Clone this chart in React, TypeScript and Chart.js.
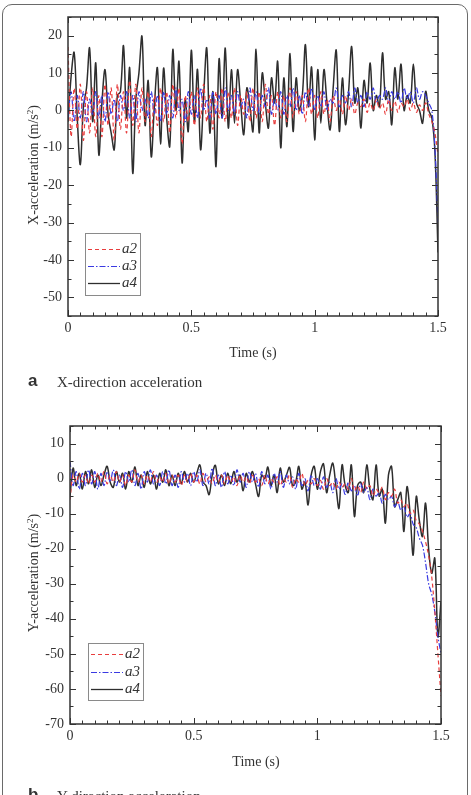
import React, { useEffect, useRef } from "react";
import { Chart, registerables } from "chart.js";

Chart.register(...registerables);

// ---- data ---------------------------------------------------------------
// Sample spacing along the time axis (s); every series below is sampled on it.
const TIME_STEP = 0.0125;
const X_TICKS = [0, 0.5, 1, 1.5];
const X_TICK_LABELS = ["0", "0.5", "1", "1.5"];
const Y_TICKS_X = [-50, -40, -30, -20, -10, 0, 10, 20];
const Y_TICKS_Y = [-70, -60, -50, -40, -30, -20, -10, 0, 10];
const SERIES_NAMES = ["a2", "a3", "a4"];

// X-direction acceleration (m/s^2)
const X_A2 = [
  17, -7, 6, -5, 7, -8, 5, -6, 6, -7,
  4, -7, 7, -4, 6, -8, 7, -5, 5, -6,
  8, -4, 7, -6, 6, -3, 5, -7, 4, -4,
  6, -3, 5, -6, 7, -2, 6, -9, 4, -3,
  5, -4, 6, -2, 7, -3, 4, -5, 5, -2,
  6, -3, 5, -2, 6, -4, 4, -1, 5, -3,
  6, -2, 5, -3, 7, -1, 4, -4, 5, -2,
  4, -3, 6, -2, 5, -1, 4, -3, 6, -1,
  4, -2, 5, -1, 3, -3, 4, 0, 3, -1,
  4, 0, 3, -1, 2, 1, 3, -0.5, 2, 0,
  3, 0.5, 2, -1, 3, 0, 2.5, -0.5, 2, 1,
  3, 0, 2, -0.5, 1.5, 0, 2, -1, -3, -6,
  -12,
];
const X_A3 = [
  -2, 5, -3, 4, -2, 5, -3, 3, -1, 5,
  -2, 4, -3, 5, -1, 3, -3, 4, 0, 5,
  -2, 4, -3, 5, 0, 3, -2, 5, -1, 4,
  -3, 5, -1, 4, -2, 6, 0, 3, -3, 5,
  -1, 4, -2, 6, 0, 3, -2, 5, -1, 4,
  -2, 6, 0, 4, -1, 5, 1, 3, -2, 6,
  0, 5, -1, 4, 1, 6, -1, 3, 0, 5,
  -1, 4, 1, 6, 0, 4, -1, 5, 1, 6,
  0, 4, 1, 5, 0, 3, 2, 6, 1, 4,
  2, 5, 1, 6, 2, 4, 1, 5, 3, 6,
  2, 4, 3, 6, 2, 5, 3, 5, 2, 6,
  3, 5, 2, 6, 3, 5, 4, 2, 0, -10,
  -30,
];
const X_A4 = [
  -3, 9, 15.5, -2, -14.5, 1, 6, 16.7, -3, 12.7,
  -11.9, 2, 10.9, -1, -6, -10.5, 4, 5, 17.3, -2,
  11.4, -16.8, 3, 10, 19.8, -4, 8, -12.4, 1, 11.4,
  -9, 11.3, -2, -9.6, 16.3, 0, 13.1, -14, 3, -5.6,
  16.1, -3, 11, -10.5, 4, 16.7, -6, 5, -15, 13.8,
  -2, 16.7, -4.7, 10.9, -3.4, 10.9, 2, -6.5, 6, 1,
  -5.6, 16.4, -6, 10, 2, -4.7, 8.7, 2, 13.1, -10,
  8.7, -4.3, 15.2, -5.6, 8.7, 0, 4, 17.6, 1, 11.6,
  -7.9, 10.9, -3.4, 10.9, 2, -5.2, 6, 16.1, -5.6, 8.7,
  -3.8, 5, 17.1, 2, 6, -4.7, 8, 2, 12.7, 0,
  4, 1, 15.4, 3, 5, -3.8, 11.4, 3, 12.4, 0,
  4, 2, 12.4, 2, 0, -3.4, 5.1, 0, -2, -11,
  -38,
];

// Y-direction acceleration (m/s^2)
const Y_A2 = [
  -6, 1, -1, 1.5, -1, 1, -1.5, 1, -1, 1.5,
  -1, 2, -1.5, 1, -1, 2, -1, 1, -2, 1,
  -1, 2.5, -1, 1, -1.5, 1, -1, 2, -1, 0.5,
  -1, 1.5, -1.5, 1, -1, 1, -2, 1, -1, 1.5,
  -1, 1, -1.5, 1.5, -1, 0.5, -1.5, 1, -1, 1,
  -1.5, 1, -1, 0.5, -2, 1, -1, 0.5, -1.5, 1,
  -1, 0, -2, 1, -1.5, 0, -1, 0.5, -2, 0,
  -1, 1, -2.5, 0, -1, 1.5, -2, -0.5, -1.5, 0,
  -2, -0.5, -3, 0, -2, -1, -3, -1, -2.5, -1.5,
  -3, 0, -3.5, -2, -4, -1, -3, -2, -5, -3,
  -4, -2.5, -6, -4, -5, -3, -7, -6, -8, -7,
  -10, -9, -12, -13, -15, -18, -22, -28, -38, -50,
  -62,
];
const Y_A3 = [
  5, -2, 2, -3, 1.5, -2, 2.5, -1.5, 2, -3,
  1.5, -2, 2, -1, 2.5, -2, 1, -2.5, 2, -1,
  2.5, -2, 1.5, -3, 2, -1, 2.5, -1.5, 1, -2,
  2, -1.5, 2.5, -2, 1, -2.5, 2, -1, 1.5, -2,
  2, -1, 2.5, -2, 1.5, -1.5, 3, -2, 1, -2.5,
  2, -1.5, 1, -2, 2.5, -1, 1.5, -2.5, 2, -1,
  1.5, -2.5, 2, -1.5, 1, -3, 1.5, -1, 2, -2.5,
  1, -1.5, 0.5, -3, 1.5, -2, 0, -3.5, 1, -2,
  0, -3, 0.5, -2.5, -1, -4, 0, -3, -1.5, -4.5,
  -1, -3.5, -2, -5, -1.5, -4, -2.5, -6, -3, -5,
  -4, -7, -4.5, -6, -5, -8, -6.5, -9, -8, -11,
  -10, -13, -14, -17, -19, -24, -30, -33, -38, -45,
  -50,
];
const Y_A4 = [
  -5, 3, -2, 1.5, -3, 2, -1.5, 2.5, -2.5, 1,
  -2, 1, 3.5, -1, -2.5, 2, -1, 1.5, -3, 2,
  -1, 3.3, -2, 1, -2.5, 2, -1.5, 1, -3, 1.5,
  -1, 2.5, -2, 1, -2, 1.5, -1.5, 2, -1, 1.5,
  -1, 1.5, 3.9, -1, -2, -4.6, 1, 3.8, -1.5, 1,
  -2, 1.5, -1.5, 2, -1, 1, -3.5, 1.5, -1, 2,
  -1.5, -5.1, 1, 0, 3.3, -2, 1, -4, 3, -1,
  1, 3.2, -2, -1, 3.5, -3, -1, -7.5, 1, 3.5,
  -3, 2, 4.2, -4, 1, 4.4, -2, -8.5, 3.9, -2,
  -4, 3.9, -10.8, -2, -1, -4, 3.9, -3, -6, 3.9,
  -5, -3, -12.7, 1, 3.5, -8, -6, -4, -15.1, -2.3,
  -10, -21.8, -5.1, -12, -16.5, -7, -20, -27, -22.7, -45,
  -35,
];

// ---- styling ------------------------------------------------------------
const SERIF = '"Liberation Serif", "Times New Roman", serif';
const SANS = '"Liberation Sans", Arial, sans-serif';
const INK = "#333";
const LINE_STYLES = [
  { color: "rgb(232, 62, 62)", dash: [4, 3], width: 1.2 },
  { color: "rgb(58, 58, 226)", dash: [6, 2, 1.5, 2], width: 1.2 },
  { color: "#2e2e2e", dash: [] as number[], width: 1.5 },
];

type Panel = {
  series: number[][];
  yMin: number;
  yMax: number;
  yTicks: number[];
  height: number;
  padTop: number;
  padRight: number;
  yAxisWidth: number;
  xAxisHeight: number;
  legend: { x: number; y: number; w: number; h: number; rows: number[] };
};

const PANEL_X: Panel = {
  series: [X_A2, X_A3, X_A4],
  yMin: -55,
  yMax: 25,
  yTicks: Y_TICKS_X,
  height: 370,
  padTop: 17,
  padRight: 33,
  yAxisWidth: 68,
  xAxisHeight: 54,
  legend: { x: 85, y: 233, w: 55, h: 62, rows: [16, 33, 50] },
};

const PANEL_Y: Panel = {
  series: [Y_A2, Y_A3, Y_A4],
  yMin: -70,
  yMax: 15,
  yTicks: Y_TICKS_Y,
  height: 380,
  padTop: 26,
  padRight: 30,
  yAxisWidth: 70,
  xAxisHeight: 56,
  legend: { x: 88, y: 243, w: 55, h: 57, rows: [11, 29, 46] },
};

// Closed box around the plot with inward major/minor ticks on all four sides.
function frameTicksPlugin(yMinor: number, yMajor: number, xMinor: number, xMajor: number) {
  return {
    id: "frameTicks",
    afterDatasetsDraw(chart: any) {
      const { ctx, chartArea: a, scales } = chart;
      const xs = scales.x;
      const ys = scales.y;
      const isMajor = (v: number, step: number) =>
        Math.abs(v / step - Math.round(v / step)) < 1e-6;
      ctx.save();
      ctx.strokeStyle = INK;
      ctx.lineWidth = 1;
      ctx.beginPath();
      const nx = Math.round((xs.max - xs.min) / xMinor);
      for (let k = 0; k <= nx; k++) {
        const v = xs.min + k * xMinor;
        const px = Math.round(xs.getPixelForValue(v)) + 0.5;
        const len = isMajor(v, xMajor) ? 6 : 3.5;
        ctx.moveTo(px, a.bottom);
        ctx.lineTo(px, a.bottom - len);
        ctx.moveTo(px, a.top);
        ctx.lineTo(px, a.top + len);
      }
      const ny = Math.round((ys.max - ys.min) / yMinor);
      for (let k = 0; k <= ny; k++) {
        const v = ys.min + k * yMinor;
        const py = Math.round(ys.getPixelForValue(v)) + 0.5;
        const len = isMajor(v, yMajor) ? 6 : 3.5;
        ctx.moveTo(a.left, py);
        ctx.lineTo(a.left + len, py);
        ctx.moveTo(a.right, py);
        ctx.lineTo(a.right - len, py);
      }
      ctx.stroke();
      ctx.lineWidth = 1.5;
      ctx.strokeRect(a.left, a.top, a.right - a.left, a.bottom - a.top);
      ctx.restore();
    },
  };
}

// Boxed legend drawn inside the plot, using each dataset's own line style.
function boxLegendPlugin(box: Panel["legend"]) {
  return {
    id: "boxLegend",
    afterDraw(chart: any) {
      const { ctx } = chart;
      ctx.save();
      ctx.fillStyle = "#fff";
      ctx.fillRect(box.x, box.y, box.w, box.h);
      ctx.strokeStyle = "#8a8a8a";
      ctx.lineWidth = 1;
      ctx.strokeRect(box.x + 0.5, box.y + 0.5, box.w, box.h);
      chart.data.datasets.forEach((ds: any, k: number) => {
        const y = box.y + box.rows[k] + 0.5;
        ctx.strokeStyle = ds.borderColor;
        ctx.lineWidth = Math.min(ds.borderWidth, 1.3);
        ctx.setLineDash(ds.borderDash || []);
        ctx.beginPath();
        ctx.moveTo(box.x + 3, y);
        ctx.lineTo(box.x + 35, y);
        ctx.stroke();
        ctx.setLineDash([]);
        ctx.fillStyle = INK;
        ctx.font = `italic 15px ${SERIF}`;
        ctx.textBaseline = "middle";
        ctx.fillText(ds.label, box.x + 37, y);
      });
      ctx.restore();
    },
  };
}

function buildConfig(p: Panel): any {
  return {
    type: "line",
    data: {
      datasets: p.series.map((values, k) => ({
        label: SERIES_NAMES[k],
        data: values.map((v, i) => ({ x: i * TIME_STEP, y: v })),
        borderColor: LINE_STYLES[k].color,
        borderDash: LINE_STYLES[k].dash,
        borderWidth: LINE_STYLES[k].width,
        pointRadius: 0,
        tension: 0.35,
        fill: false,
      })),
    },
    options: {
      responsive: false,
      animation: false,
      devicePixelRatio: 1,
      events: [],
      layout: { padding: { left: 0, top: p.padTop, right: p.padRight, bottom: 0 } },
      plugins: { legend: { display: false }, tooltip: { enabled: false } },
      scales: {
        x: {
          type: "linear",
          min: 0,
          max: 1.5,
          grid: { display: false, drawTicks: false },
          border: { display: false },
          afterBuildTicks: (s: any) => {
            s.ticks = X_TICKS.map((v) => ({ value: v }));
          },
          afterFit: (s: any) => {
            s.height = p.xAxisHeight;
          },
          ticks: {
            font: { family: SERIF, size: 14 },
            color: INK,
            padding: 4,
            maxRotation: 0,
            autoSkip: false,
            callback: (v: number) => X_TICK_LABELS[X_TICKS.indexOf(v)] ?? "",
          },
        },
        y: {
          type: "linear",
          min: p.yMin,
          max: p.yMax,
          grid: { display: false, drawTicks: false },
          border: { display: false },
          afterBuildTicks: (s: any) => {
            s.ticks = p.yTicks.map((v) => ({ value: v }));
          },
          afterFit: (s: any) => {
            s.width = p.yAxisWidth;
          },
          ticks: {
            font: { family: SERIF, size: 14 },
            color: INK,
            padding: 6,
            autoSkip: false,
            callback: (v: number) => String(v),
          },
        },
      },
    },
    plugins: [frameTicksPlugin(5, 10, 0.05, 0.5), boxLegendPlugin(p.legend)],
  };
}

const abs = (extra: React.CSSProperties): React.CSSProperties => ({
  position: "absolute",
  whiteSpace: "nowrap",
  ...extra,
});

function AxisTitleY({ cx, cy, axis }: { cx: number; cy: number; axis: string }) {
  return (
    <div
      style={abs({
        left: cx,
        top: cy,
        transform: "translate(-50%, -50%) rotate(-90deg)",
        fontSize: 14,
        lineHeight: "16px",
      })}
    >
      {axis}-acceleration (m/s
      <sup style={{ fontSize: 9, lineHeight: 0, verticalAlign: 5 }}>2</sup>)
    </div>
  );
}

function Caption({ top, letter, text }: { top: number; letter: string; text: string }) {
  return (
    <>
      <div style={abs({ left: 28, top, fontFamily: SANS, fontWeight: 700, fontSize: 17, lineHeight: "20px" })}>
        {letter}
      </div>
      <div style={abs({ left: 57, top: top + 1, fontSize: 15, lineHeight: "20px" })}>{text}</div>
    </>
  );
}

export default function App() {
  const refX = useRef<HTMLCanvasElement>(null);
  const refY = useRef<HTMLCanvasElement>(null);

  useEffect(() => {
    document.body.style.margin = "0";
    const cx = new Chart(refX.current as HTMLCanvasElement, buildConfig(PANEL_X));
    const cy = new Chart(refY.current as HTMLCanvasElement, buildConfig(PANEL_Y));
    return () => {
      cx.destroy();
      cy.destroy();
    };
  }, []);

  return (
    <div
      style={{
        position: "relative",
        width: 471,
        height: 795,
        overflow: "hidden",
        background: "#fff",
        fontFamily: SERIF,
        color: INK,
      }}
    >
      <div
        style={abs({
          left: 2,
          top: 4,
          width: 464,
          height: 830,
          border: "1.5px solid #6a6a6a",
          borderRadius: 10,
        })}
      />
      <canvas ref={refX} width={471} height={PANEL_X.height} style={abs({ left: 0, top: 0 })} />
      <canvas ref={refY} width={471} height={PANEL_Y.height} style={abs({ left: 0, top: 400 })} />

      <AxisTitleY cx={34} cy={165} axis="X" />
      <AxisTitleY cx={34} cy={573} axis="Y" />

      <div style={abs({ left: 253, top: 353, transform: "translate(-50%, -50%)", fontSize: 14 })}>Time (s)</div>
      <div style={abs({ left: 256, top: 762, transform: "translate(-50%, -50%)", fontSize: 14 })}>Time (s)</div>

      <Caption top={371} letter="a" text="X-direction acceleration" />
      <Caption top={785} letter="b" text="Y-direction acceleration" />
    </div>
  );
}
